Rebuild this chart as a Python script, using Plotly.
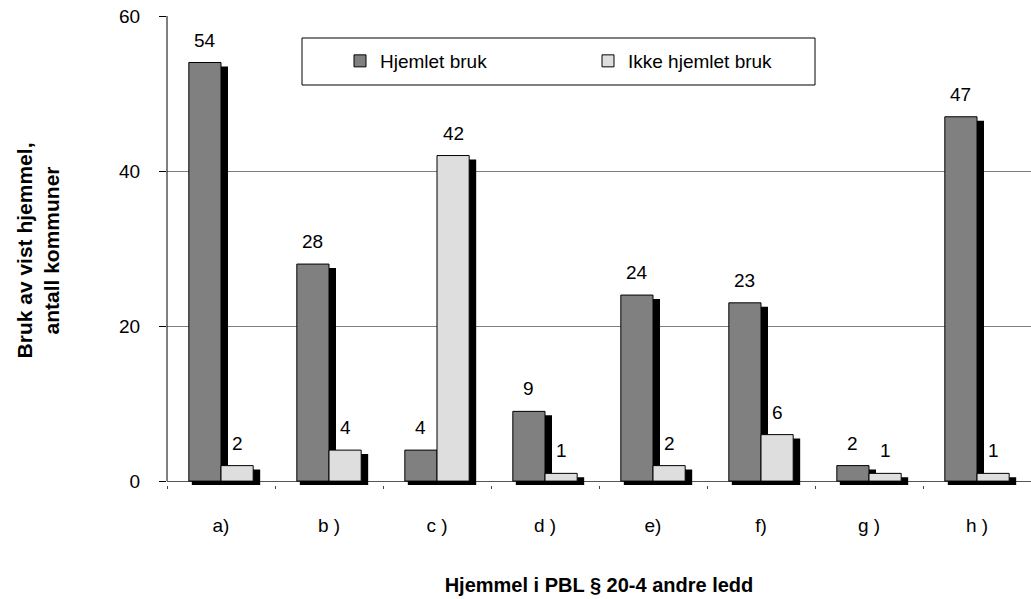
import plotly.graph_objects as go

# Categories (ledd) and counts per category
categories = ["a)", "b )", "c )", "d )", "e)", "f)", "g )", "h )"]
hjemlet = [54, 28, 4, 9, 24, 23, 2, 47]
ikke_hjemlet = [2, 4, 42, 1, 2, 6, 1, 1]
y_ticks = [0, 20, 40, 60]

FONT = "Arial, Liberation Sans, sans-serif"
DARK = "#808080"
LIGHT = "#dedede"
TXT = 19

# geometry in category units (one category = 108 px)
BAR_W = 0.298
PX = 1 / 108.0
SH_DX = 3 * PX      # shadow starts a little to the right
SH_EXTRA = 4 * PX   # and is slightly wider
SH_DROP = 0.5       # shadow dropped below the bar (y units)

fig = go.Figure()

# drop shadows behind the bars
for vals, off in ((hjemlet, -BAR_W), (ikke_hjemlet, 0.0)):
    fig.add_trace(go.Bar(
        x=categories, y=vals, base=-SH_DROP,
        offset=off + SH_DX, width=BAR_W + SH_EXTRA,
        marker=dict(color="black", line=dict(width=0)),
        showlegend=False, hoverinfo="skip",
    ))

fig.add_trace(go.Bar(
    x=categories, y=hjemlet, name="Hjemlet bruk",
    offset=-BAR_W, width=BAR_W,
    marker=dict(color=DARK, line=dict(color="black", width=1)),
))
fig.add_trace(go.Bar(
    x=categories, y=ikke_hjemlet, name="Ikke hjemlet bruk",
    offset=0.0, width=BAR_W,
    marker=dict(color=LIGHT, line=dict(color="black", width=1)),
))

# value labels above each bar
half = BAR_W / 2 / PX
for vals, shift in ((hjemlet, -half), (ikke_hjemlet, half)):
    for c, v in zip(categories, vals):
        fig.add_annotation(
            x=c, y=v, text=str(v), showarrow=False,
            xshift=shift, yshift=10, yanchor="bottom",
            font=dict(family=FONT, size=TXT, color="black"),
        )

# y axis line from 0 to 60
fig.add_shape(type="line", xref="paper", yref="y", x0=0, x1=0, y0=0, y1=60,
              line=dict(color="black", width=1))

# legend frame
fig.add_shape(type="rect", xref="paper", yref="paper",
              x0=(302 - 167) / 864, x1=(815 - 167) / 864,
              y0=(485 - 85) / 469, y1=(485 - 38) / 469,
              line=dict(color="black", width=1), fillcolor="white", layer="below")

fig.update_layout(
    width=1031, height=599,
    margin=dict(l=167, r=0, t=16, b=114),
    paper_bgcolor="white", plot_bgcolor="rgba(0,0,0,0)",
    barmode="overlay",
    font=dict(family=FONT, size=TXT, color="black"),
    showlegend=True,
    legend=dict(
        orientation="h", x=(340 - 167) / 864, xanchor="left",
        y=(485 - 61) / 469, yanchor="middle",
        bgcolor="rgba(0,0,0,0)", borderwidth=0,
        entrywidth=203, entrywidthmode="pixels",
        font=dict(family=FONT, size=TXT, color="black"),
    ),
    xaxis=dict(
        type="category", range=[-0.5, 7.5],
        showline=False, showgrid=False, zeroline=False,
        ticks="outside", tickson="boundaries", ticklen=3,
        tickcolor="#444", ticklabelstandoff=27,
        tickfont=dict(family=FONT, size=TXT),
        title=dict(text="<b>Hjemmel i PBL § 20-4 andre ledd</b>",
                   font=dict(family=FONT, size=20), standoff=42),
    ),
    yaxis=dict(
        range=[-SH_DROP, 60], tickvals=y_ticks,
        showline=False, showgrid=True, gridcolor="#808080", gridwidth=1,
        zeroline=True, zerolinecolor="#555555", zerolinewidth=1,
        ticks="outside", ticklen=7, tickcolor="black",
        ticklabelstandoff=15,
        tickfont=dict(family=FONT, size=TXT),
        title=dict(text="<b>Bruk av vist hjemmel,<br>antall kommuner</b>",
                   font=dict(family=FONT, size=21), standoff=53),
    ),
)

fig.write_html("out.html")
